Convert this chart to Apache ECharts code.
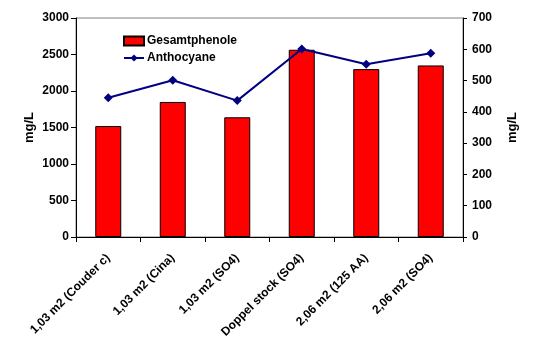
<!DOCTYPE html>
<html><head><meta charset="utf-8">
<script src="https://cdn.jsdelivr.net/npm/echarts@6/dist/echarts.min.js"></script>
<style>html,body{margin:0;padding:0;background:#fff}#c{width:547px;height:349px}</style>
</head><body><div id="c"></div>
<script>
const categories = ['1,03 m2 (Couder c)', '1,03 m2 (Cina)', '1,03 m2 (SO4)', 'Doppel stock (SO4)', '2,06 m2 (125 AA)', '2,06 m2 (SO4)'];
const gesamtphenole = [1520, 1850, 1640, 2565, 2300, 2350];
const anthocyane = [445, 501, 436, 601, 552, 587];
const leftTicks = [0, 3000, 500];
const rightTicks = [0, 700, 100];

const font = 'Liberation Sans, Arial, sans-serif';
const chart = echarts.init(document.getElementById('c'));
chart.setOption({
  animation: false,
  grid: {left: 76, right: 84, top: 18, bottom: 112, show: true, borderColor: '#808080', borderWidth: 1},
  legend: {
    left: 118, top: 30, orient: 'vertical', itemGap: 5, itemWidth: 20, itemHeight: 9,
    textStyle: {fontFamily: font, fontWeight: 'bold', fontSize: 12, color: '#000', padding: [0, 0, 0, -2]},
    data: [{name: 'Gesamtphenole', icon: 'rect'}, {name: 'Anthocyane'}]
  },
  xAxis: {
    type: 'category', data: categories, boundaryGap: true,
    axisLine: {lineStyle: {color: '#000', width: 1}},
    axisTick: {show: true, length: 5, lineStyle: {color: '#000'}},
    axisLabel: {rotate: 45, fontFamily: font, fontWeight: 'bold', fontSize: 12, color: '#000', margin: 19, interval: 0}
  },
  yAxis: [{
    type: 'value', min: leftTicks[0], max: leftTicks[1], interval: leftTicks[2],
    name: 'mg/L', nameLocation: 'middle', nameGap: 40, nameRotate: 90, nameMoveOverlap: false,
    nameTextStyle: {fontFamily: font, fontWeight: 'bold', fontSize: 13, color: '#000'},
    axisLine: {show: true, lineStyle: {color: '#000'}},
    axisTick: {show: true, length: 5, lineStyle: {color: '#000'}},
    splitLine: {show: false},
    axisLabel: {fontFamily: font, fontWeight: 'bold', fontSize: 12, color: '#000', margin: 7, formatter: v => String(v)}
  }, {
    type: 'value', min: rightTicks[0], max: rightTicks[1], interval: rightTicks[2], position: 'right',
    name: 'mg/L', nameLocation: 'middle', nameGap: 43, nameRotate: 90, nameMoveOverlap: false,
    nameTextStyle: {fontFamily: font, fontWeight: 'bold', fontSize: 13, color: '#000'},
    axisLine: {show: true, lineStyle: {color: '#000'}},
    axisTick: {show: true, length: 4, lineStyle: {color: '#000'}},
    splitLine: {show: false},
    axisLabel: {fontFamily: font, fontWeight: 'bold', fontSize: 12, color: '#000', margin: 9, formatter: v => String(v)}
  }],
  series: [{
    name: 'Gesamtphenole', type: 'bar', data: gesamtphenole, barWidth: 26, yAxisIndex: 0,
    itemStyle: {color: '#FF0000', borderColor: '#000', borderWidth: 1}
  }, {
    name: 'Anthocyane', type: 'line', data: anthocyane, yAxisIndex: 1,
    symbol: 'diamond', symbolSize: 9,
    lineStyle: {color: '#000080', width: 2}, itemStyle: {color: '#000080'}
  }]
});
</script></body></html>
